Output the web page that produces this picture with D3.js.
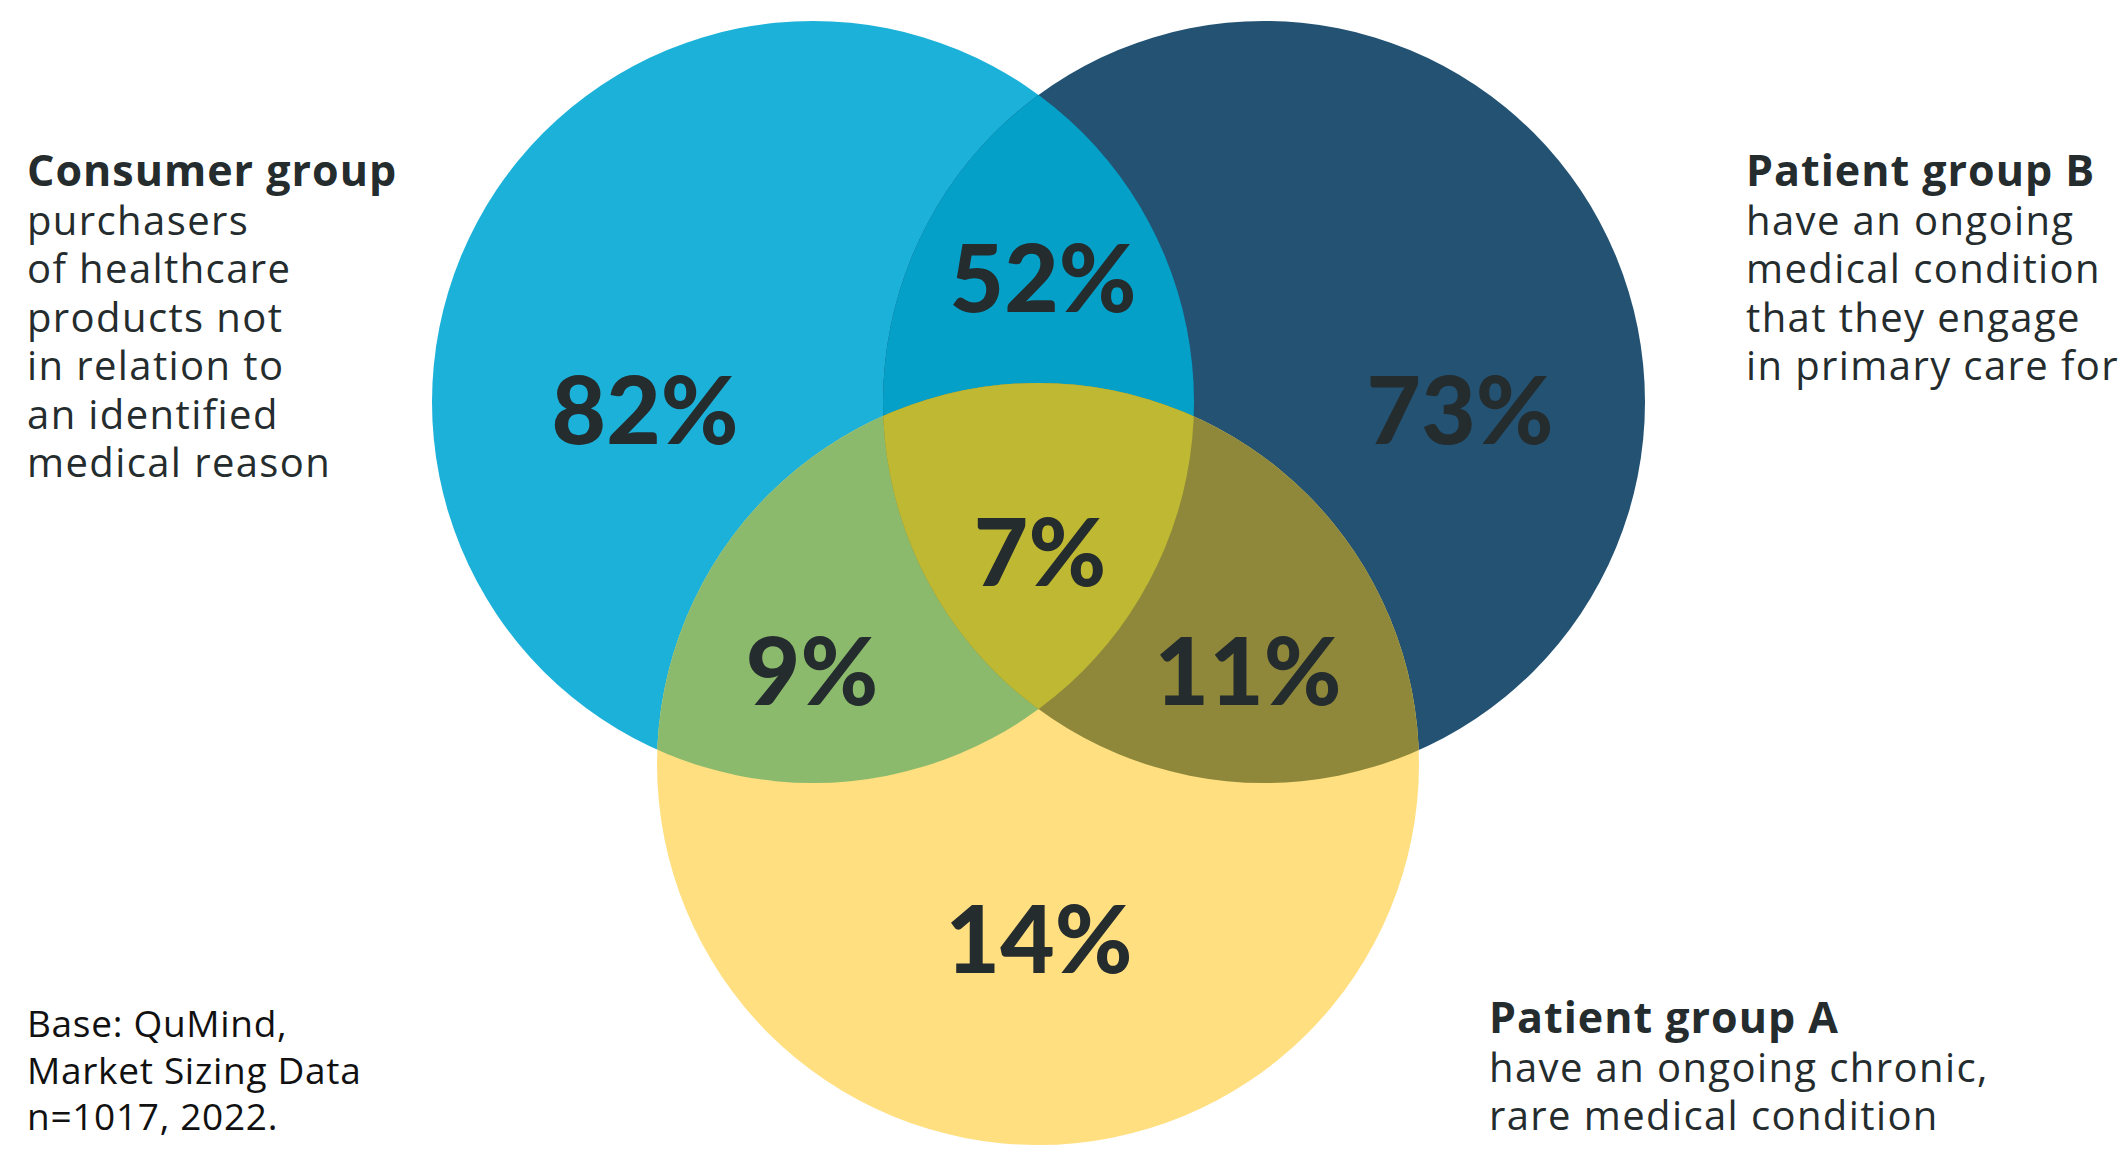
<!DOCTYPE html>
<html>
<head>
<meta charset="utf-8">
<script src="https://cdn.jsdelivr.net/npm/d3@7"></script>
<style>
  body { margin: 0; background: #fff; }
  svg { display: block; }
  text { font-family: "Open Sans", Lato, sans-serif; fill: #252c2e; }
  text.pct { font-family: Lato, sans-serif; }
</style>
</head>
<body>
<svg id="venn" width="2126" height="1154"></svg>
<script>
// sets and their descriptions
var sets = ["consumer", "patientB", "patientA"];
var setTitles = ["Consumer group", "Patient group B", "Patient group A"];
var setLines = [
  ["purchasers", "of healthcare", "products not", "in relation to", "an identified", "medical reason"],
  ["have an ongoing", "medical condition", "that they engage", "in primary care for"],
  ["have an ongoing chronic,", "rare medical condition"]
];

// region shares (%)
var regions = [
  ["consumer"],
  ["patientB"],
  ["patientA"],
  ["consumer", "patientB"],
  ["consumer", "patientA"],
  ["patientB", "patientA"],
  ["consumer", "patientB", "patientA"]
];
var regionValues = [82, 73, 14, 52, 9, 11, 7];

var baseLines = ["Base: QuMind,", "Market Sizing Data", "n=1017, 2022."];

// layout
var svg = d3.select("#venn");
var r = 381;
var centers = {
  consumer: [813, 402],
  patientB: [1264, 402],
  patientA: [1038, 764]
};
var colors = {
  "consumer": "#1cb1d9",
  "patientB": "#235273",
  "patientA": "#ffdf80",
  "consumer,patientB": "#04a0c8",
  "consumer,patientA": "#8bba6d",
  "patientB,patientA": "#8f883a",
  "consumer,patientB,patientA": "#beb833"
};
// label anchors for each region (centre of label)
var labelPos = {
  "consumer": [645, 407],
  "patientB": [1460, 407],
  "patientA": [1039, 936],
  "consumer,patientB": [1043, 275],
  "consumer,patientA": [812, 668],
  "patientB,patientA": [1248, 668],
  "consumer,patientB,patientA": [1040, 549]
};

var defs = svg.append("defs");
sets.forEach(function(s) {
  defs.append("clipPath").attr("id", "clip-" + s)
    .append("circle")
    .attr("cx", centers[s][0]).attr("cy", centers[s][1]).attr("r", r);
});

var g = svg.append("g");

regions.forEach(function(reg) {
  var key = reg.join(",");
  var last = reg[reg.length - 1];
  var holder = g;
  // nest clips for all but the drawn circle
  reg.slice(0, -1).forEach(function(s) {
    holder = holder.append("g").attr("clip-path", "url(#clip-" + s + ")");
  });
  holder.append("circle")
    .attr("cx", centers[last][0])
    .attr("cy", centers[last][1])
    .attr("r", r)
    .attr("fill", colors[key]);
});

// percentages
g.selectAll("text.pct")
  .data(regions)
  .enter().append("text")
  .attr("class", "pct")
  .attr("x", function(d) { return labelPos[d.join(",")][0]; })
  .attr("y", function(d) { return labelPos[d.join(",")][1]; })
  .attr("text-anchor", "middle")
  .attr("dominant-baseline", "central")
  .style("font-size", "94px")
  .style("font-weight", 900)
  .text(function(d, i) { return regionValues[i] + "%"; });

// set descriptions
var descPos = [[27, 186], [1746, 186], [1489, 1033]];
var lineGap = 48.5;

sets.forEach(function(s, i) {
  var t = svg.append("text")
    .attr("x", descPos[i][0])
    .attr("y", descPos[i][1]);
  t.append("tspan")
    .attr("x", descPos[i][0])
    .style("font-size", "43px")
    .style("font-weight", 700)
    .style("letter-spacing", "1px")
    .text(setTitles[i]);
  setLines[i].forEach(function(line) {
    t.append("tspan")
      .attr("x", descPos[i][0])
      .attr("dy", lineGap)
      .style("font-size", "40px")
      .style("font-weight", 400)
      .style("letter-spacing", "1.4px")
      .text(line);
  });
});

// base note
var base = svg.append("text").attr("x", 27).attr("y", 1037)
  .style("font-size", "37px").style("letter-spacing", "0.7px").style("fill", "#111");
baseLines.forEach(function(line, i) {
  base.append("tspan").attr("x", 27).attr("dy", i ? 46.5 : 0).text(line);
});
</script>
</body>
</html>
